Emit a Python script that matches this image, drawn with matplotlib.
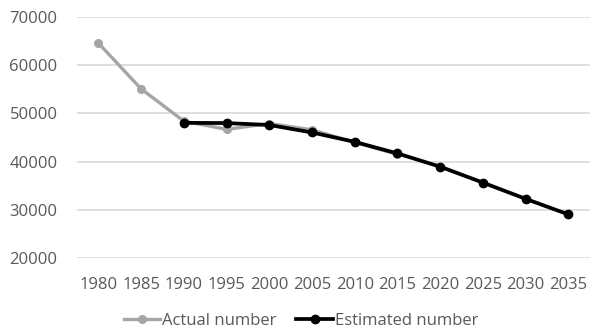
import matplotlib
matplotlib.use("Agg")
import matplotlib.pyplot as plt

years = ["1980", "1985", "1990", "1995", "2000", "2005", "2010", "2015", "2020", "2025", "2030", "2035"]
actual = [64600, 55100, 48400, 46700, 47900, 46600, 44000, 41500, None, None, None, None]
estimated = [None, None, 48050, 48000, 47600, 46050, 44100, 41700, 38950, 35650, 32280, 29050]
yticks = [20000, 30000, 40000, 50000, 60000, 70000]

plt.rcParams['font.family'] = ['Open Sans', 'DejaVu Sans']
fig = plt.figure(figsize=(5.9, 3.31), dpi=100)
ax = fig.add_axes([0.1305, 0.2205, 0.869, 0.728])

x = list(range(len(years)))
ax_x = [i for i, v in zip(x, actual) if v is not None]
ax_y = [v for v in actual if v is not None]
ex_x = [i for i, v in zip(x, estimated) if v is not None]
ex_y = [v for v in estimated if v is not None]

ax.plot(ax_x, ax_y, color="#A5A5A5", lw=2.4, marker="o", ms=5.5, label="Actual number", zorder=3)
ax.plot(ex_x, ex_y, color="#000000", lw=2.7, marker="o", ms=6, label="Estimated number", zorder=4)

ax.set_xlim(-0.5, len(years) - 0.5)
ax.set_ylim(20000, 70000)
ax.set_yticks(yticks)
ax.set_yticklabels([str(v) for v in yticks])
ax.set_xticks(x)
ax.set_xticklabels(years)
ax.grid(axis="y", color="#D9D9D9", lw=1.2)
ax.set_axisbelow(True)
for s in ax.spines.values():
    s.set_visible(False)
ax.tick_params(axis="both", length=0, colors="#595959", labelsize=12)
ax.tick_params(axis="y", pad=14)
ax.tick_params(axis="x", pad=14)

leg = fig.legend(loc="center", bbox_to_anchor=(0.51, 0.03), ncol=2, frameon=False,
                 fontsize=12, handlelength=2.2, columnspacing=1.2, handletextpad=0.1)
for t in leg.get_texts():
    t.set_color("#595959")

fig.savefig("out.png", dpi=100)
